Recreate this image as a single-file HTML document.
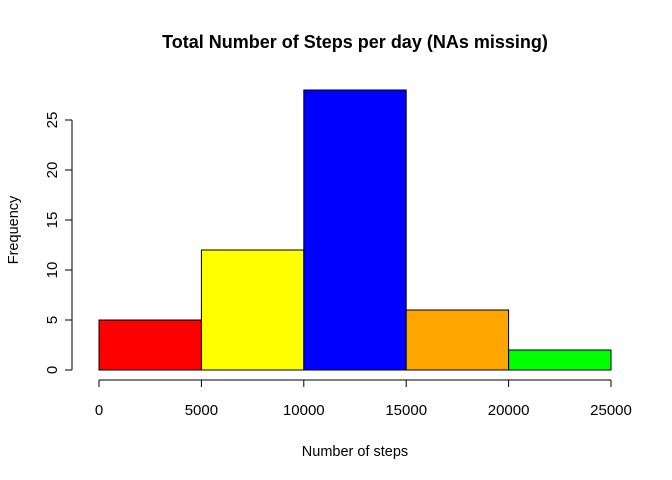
<!DOCTYPE html>
<html><head><meta charset="utf-8"><style>
html,body{margin:0;padding:0;background:#fff;}
svg{display:block;font-family:"Liberation Sans",Arial,sans-serif;}
</style></head><body>
<svg id="chart" width="672" height="480" viewBox="0 0 672 480" xmlns="http://www.w3.org/2000/svg">
<rect width="672" height="480" fill="#fff"/>
<text x="355" y="48" text-anchor="middle" font-size="18" font-weight="bold">Total Number of Steps per day (NAs missing)</text>
<text x="355" y="456" text-anchor="middle" font-size="14.5">Number of steps</text>
<text transform="translate(18,230) rotate(-90)" text-anchor="middle" font-size="14.5">Frequency</text>
<g id="bars"></g>
<g id="xaxis"></g>
<g id="yaxis"></g>
</svg>
<script>
const binStarts=[0,5000,10000,15000,20000];
const binWidth=5000;
const counts=[5,12,28,6,2];
const colors=["#ff0000","#ffff00","#0000ff","#ffa500","#00ff00"];
const xTicks=[0,5000,10000,15000,20000,25000];
const yTicks=[0,5,10,15,20,25];
const NS="http://www.w3.org/2000/svg";
function xs(v){return 99+v*(512/25000);}
function ys(v){return 370-v*10;}
const bars=document.getElementById('bars');
binStarts.forEach((b,i)=>{
  const r=document.createElementNS(NS,'rect');
  
  
  r.setAttribute('x',xs(b));r.setAttribute('y',ys(counts[i]));
  r.setAttribute('width',xs(b+binWidth)-xs(b));r.setAttribute('height',ys(0)-ys(counts[i]));
  r.setAttribute('fill',colors[i]);r.setAttribute('stroke','#000');r.setAttribute('stroke-width','1');
  bars.appendChild(r);
});
const xa=document.getElementById('xaxis');
let l=document.createElementNS(NS,'line');


l.setAttribute('x1',xs(xTicks[0]));l.setAttribute('x2',xs(xTicks[xTicks.length-1]));l.setAttribute('y1',380);l.setAttribute('y2',380);l.setAttribute('stroke','#000');
xa.appendChild(l);
xTicks.forEach(t=>{
  const k=document.createElementNS(NS,'line');
  
  
  k.setAttribute('x1',xs(t));k.setAttribute('x2',xs(t));k.setAttribute('y1',380);k.setAttribute('y2',387);k.setAttribute('stroke','#000');
  xa.appendChild(k);
  const tx=document.createElementNS(NS,'text');
  
  
  tx.setAttribute('x',xs(t));tx.setAttribute('y',415);tx.setAttribute('text-anchor','middle');tx.setAttribute('font-size','15');
  tx.textContent=t;xa.appendChild(tx);
});
const ya=document.getElementById('yaxis');
l=document.createElementNS(NS,'line');


l.setAttribute('x1',72);l.setAttribute('x2',72);l.setAttribute('y1',ys(yTicks[0]));l.setAttribute('y2',ys(yTicks[yTicks.length-1]));l.setAttribute('stroke','#000');
ya.appendChild(l);
yTicks.forEach(t=>{
  const k=document.createElementNS(NS,'line');
  
  
  k.setAttribute('x1',65);k.setAttribute('x2',72);k.setAttribute('y1',ys(t));k.setAttribute('y2',ys(t));k.setAttribute('stroke','#000');
  ya.appendChild(k);
  const tx=document.createElementNS(NS,'text');
  
  
  tx.setAttribute('transform','translate(57,'+ys(t)+') rotate(-90)');tx.setAttribute('text-anchor','middle');tx.setAttribute('font-size','15');
  tx.textContent=t;ya.appendChild(tx);
});
</script>
</body></html>
